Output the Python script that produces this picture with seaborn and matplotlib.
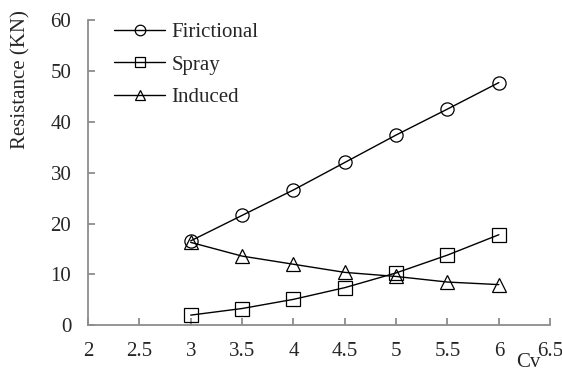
import matplotlib
matplotlib.use("Agg")
import matplotlib.pyplot as plt
import seaborn as sns
import pandas as pd

cv = [3, 3.5, 4, 4.5, 5, 5.5, 6]
frictional = [16.6, 21.6, 26.6, 32.0, 37.4, 42.5, 47.7]
spray = [2.0, 3.3, 5.1, 7.4, 10.3, 13.8, 17.8]
induced = [16.3, 13.6, 12.0, 10.4, 9.6, 8.5, 8.0]
series_names = ["Firictional", "Spray", "Induced"]
x_ticks = [2, 2.5, 3, 3.5, 4, 4.5, 5, 5.5, 6, 6.5]
y_ticks = [0, 10, 20, 30, 40, 50, 60]

sns.set_style("white")
plt.rcParams["font.family"] = ["Liberation Serif", "DejaVu Serif"]
plt.rcParams["font.size"] = 15

df = pd.DataFrame({
    "Cv": cv * 3,
    "Resistance": frictional + spray + induced,
    "Series": sum([[n] * len(cv) for n in series_names], []),
})

fig = plt.figure(figsize=(5.62, 3.74), dpi=100)
ax = fig.add_axes([0.1566, 0.1302, 0.9790 - 0.1566, 0.9465 - 0.1302])

markers = {"Firictional": "o", "Spray": "s", "Induced": "^"}
for name in series_names:
    sub = df[df["Series"] == name]
    sns.lineplot(data=sub, x="Cv", y="Resistance", ax=ax, color="black",
                 linewidth=1.0, marker=markers[name], markersize=9.5,
                 markerfacecolor="none", markeredgecolor="black",
                 markeredgewidth=0.9, label=name)

ax.set_xlim(2, 6.5)
ax.set_ylim(0, 60)
ax.set_xticks(x_ticks)
ax.set_xticklabels([f"{t:g}" for t in x_ticks])
ax.set_yticks(y_ticks)
ax.set_xlabel("")
ax.set_ylabel("")
fig.text(21 / 562, 1 - 80 / 374, "Resistance (KN)", rotation=90,
         ha="center", va="center", fontsize=15)
fig.text(528 / 562, 2 / 374, "Cv", fontsize=15, ha="center", va="bottom")

for side in ["top", "right"]:
    ax.spines[side].set_visible(False)
for side in ["left", "bottom"]:
    ax.spines[side].set_color("#8c8c8c")
    ax.spines[side].set_linewidth(1.3)
ax.tick_params(axis="both", direction="in", length=5, width=1.3,
               color="#8c8c8c", labelsize=15)
ax.tick_params(axis="y", left=True, pad=12)
ax.tick_params(axis="x", bottom=True, pad=12)

leg = ax.legend(loc="upper left", bbox_to_anchor=(0.203, 0.94),
                bbox_transform=fig.transFigure, frameon=False,
                handlelength=2.45, handletextpad=0.3, labelspacing=0.62,
                borderpad=0, borderaxespad=0, fontsize=15, markerscale=0.8)

fig.savefig("out.png", dpi=100)
